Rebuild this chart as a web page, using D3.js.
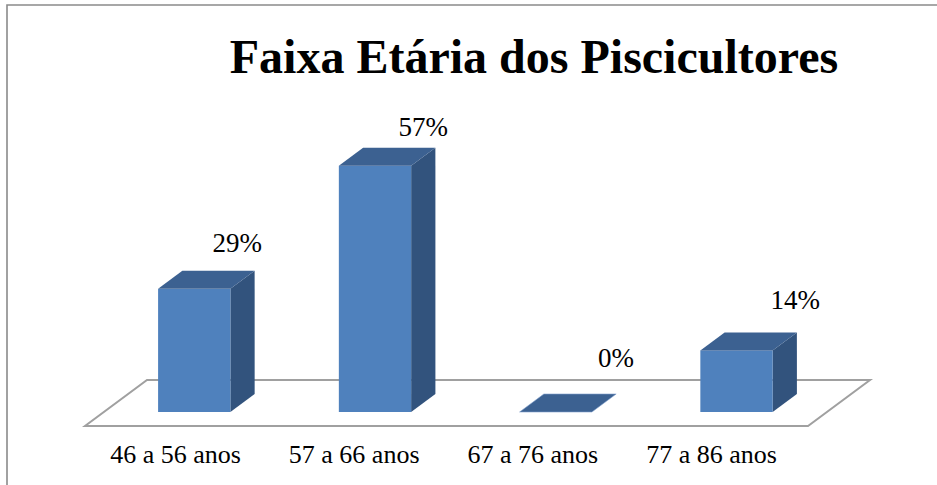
<!DOCTYPE html>
<html><head><meta charset="utf-8">
<script src="https://cdn.jsdelivr.net/npm/d3@7"></script>
<style>html,body{margin:0;padding:0;background:#fff;overflow:hidden}</style>
</head><body>
<svg id="c" width="937" height="485"></svg>
<script>
const title = "Faixa Etária dos Piscicultores";
const categories = ["46 a 56 anos", "57 a 66 anos", "67 a 76 anos", "77 a 86 anos"];
const values = [28.57, 57.14, 0, 14.29];
const valueLabels = ["29%", "57%", "0%", "14%"];

const svg = d3.select("#c");
const W = 937, H = 485;
const serif = "'Liberation Serif','Times New Roman',serif";

// frame
svg.append("path").attr("d", `M7,${H} L7,5 L${W},5`).attr("fill","none")
  .attr("stroke","#8a8a8a").attr("stroke-width",1.6);

// title
svg.append("text").attr("x",534).attr("y",73).attr("text-anchor","middle")
  .attr("font-family",serif).attr("font-weight","bold").attr("font-size",48)
  .attr("fill","#000").text(title);

// 3D geometry
const floorY = 426, depthX = 62, depthY = 46;
const x = d3.scaleBand().domain(categories).range([85, 808]).padding(0);
const h = d3.scaleLinear().domain([0, 100]).range([0, 431]);
const proj = (px, z) => [px + depthX * z, floorY - depthY * z];
const zFront = 14 / 46, zBack = 32 / 46;
const barW = x.bandwidth() * 0.4;

// floor
const f = [proj(85,0), proj(808,0), proj(808,1), proj(85,1)];
svg.append("path").attr("d", "M" + f.map(p => p.join(",")).join("L") + "Z")
  .attr("fill","none").attr("stroke","#a0a0a0").attr("stroke-width",2);

const colFront = "#4f81bd", colTop = "#3c6191", colSide = "#32537d";

categories.forEach((c, i) => {
  const v = values[i];
  const x0 = x(c) + (x.bandwidth() - barW) / 2;
  const x1 = x0 + barW;
  const hh = h(v);
  const [fl, fb] = proj(x0, zFront);
  const [fr] = proj(x1, zFront);
  const [bl, bb] = proj(x0, zBack);
  const [br] = proj(x1, zBack);
  const ft = fb - hh, bt = bb - hh;
  const g = svg.append("g");
  if (hh > 0) {
    g.append("path").attr("d", `M${fr},${fb}L${br},${bb}L${br},${bt}L${fr},${ft}Z`).attr("fill", colSide);
    g.append("rect").attr("x", fl).attr("y", ft).attr("width", fr - fl).attr("height", hh).attr("fill", colFront);
  }
  g.append("path").attr("d", `M${fl},${ft}L${fr},${ft}L${br},${bt}L${bl},${bt}Z`)
    .attr("fill", colTop).attr("stroke", hh > 0 ? "none" : "#7fa0cc").attr("stroke-width", 0.6);
});

// value labels (placed in the perspective label plane)
const lx = d3.scalePoint().domain(categories).range([262, 820]);
categories.forEach((c, i) => {
  const hh = h(values[i]);
  const topBack = floorY - depthY * zBack - hh;
  svg.append("text").attr("x", lx(c)).attr("y", topBack - 27 + 0.063 * hh)
    .attr("text-anchor","end").attr("font-family",serif).attr("font-size",27)
    .attr("fill","#000").text(valueLabels[i]);
});

// category labels (front floor edge, perspective-compressed)
const cx = d3.scalePoint().domain(categories).range([175.5, 711.5]);
svg.append("g").selectAll("text").data(categories).join("text")
  .attr("x", d => cx(d)).attr("y", 463)
  .attr("text-anchor","middle").attr("font-family",serif).attr("font-size",26)
  .attr("fill","#000").text(d => d);
</script>
</body></html>
